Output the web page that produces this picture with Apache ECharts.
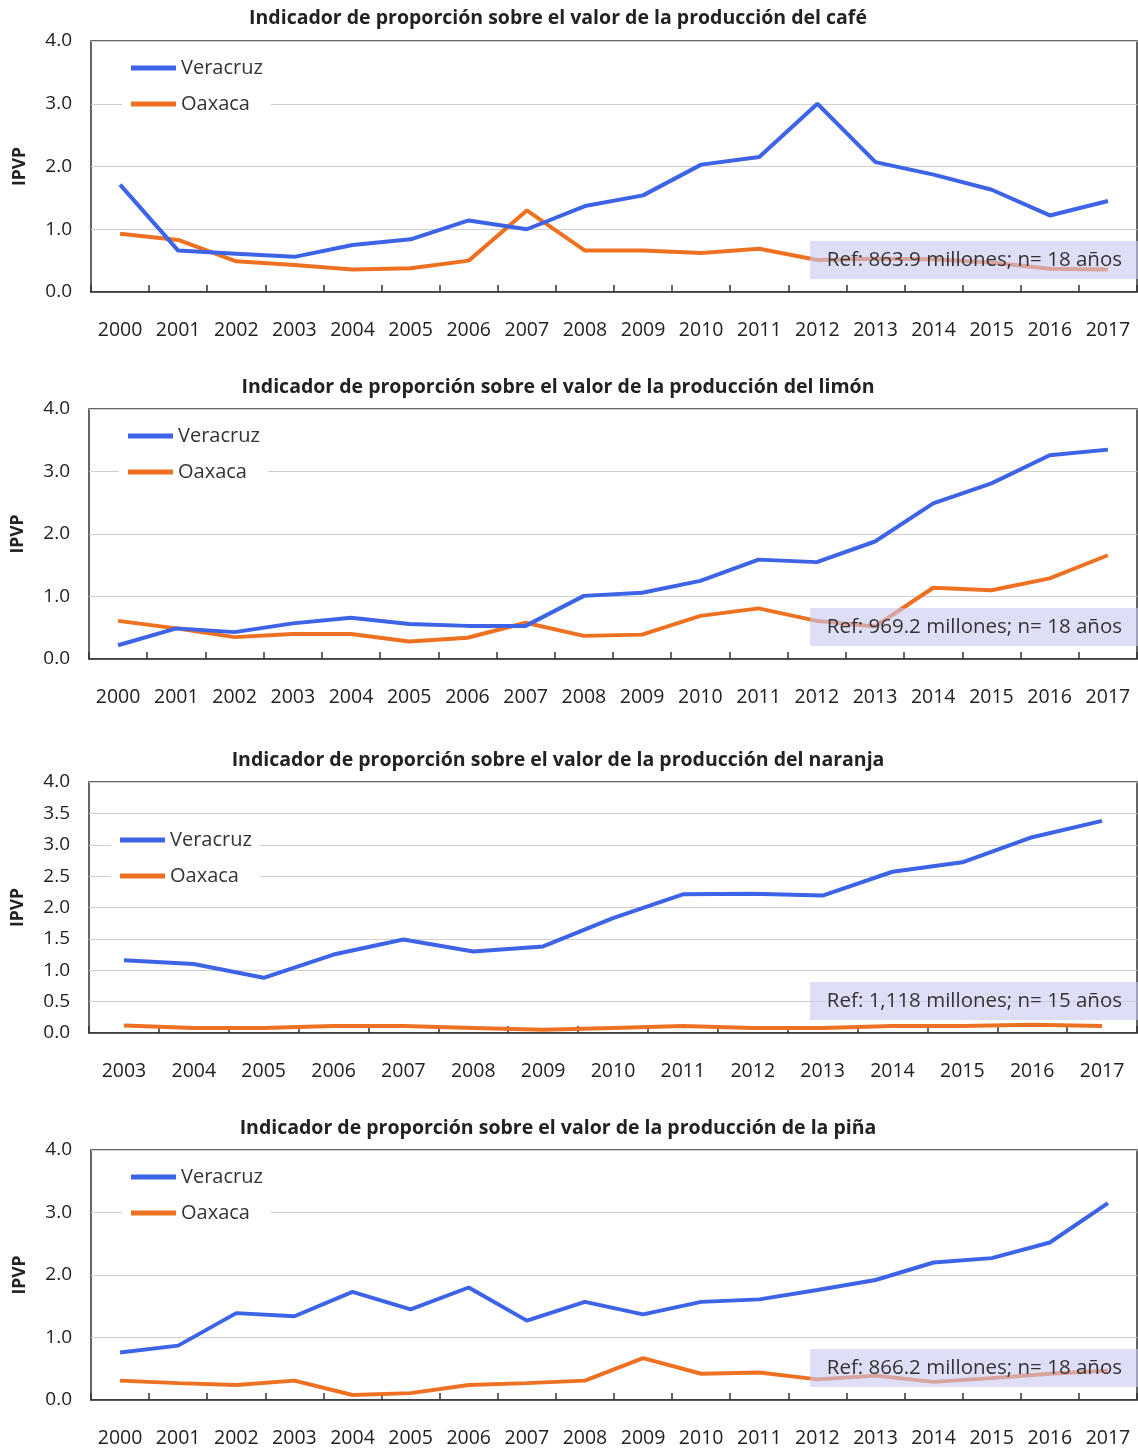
<!DOCTYPE html>
<html><head><meta charset="utf-8">
<script src="https://cdn.jsdelivr.net/npm/echarts@6/dist/echarts.min.js"></script>
<style>html,body{margin:0;padding:0;background:#fff}#c{width:1138px;height:1450px}</style>
</head><body><div id="c"></div>
<script>
// ---- data ----
const years2000 = ['2000','2001','2002','2003','2004','2005','2006','2007','2008','2009','2010','2011','2012','2013','2014','2015','2016','2017'];
const years2003 = ['2003','2004','2005','2006','2007','2008','2009','2010','2011','2012','2013','2014','2015','2016','2017'];
const seriesNames = ['Veracruz','Oaxaca'];
const chartTitles = [
  'Indicador de proporción sobre el valor de la producción del café',
  'Indicador de proporción sobre el valor de la producción del limón',
  'Indicador de proporción sobre el valor de la producción del naranja',
  'Indicador de proporción sobre el valor de la producción de la piña'
];
const refNotes = [
  'Ref: 863.9 millones; n= 18 años',
  'Ref: 969.2 millones; n= 18 años',
  'Ref: 1,118 millones; n= 15 años',
  'Ref: 866.2 millones; n= 18 años'
];
const cafeVeracruz  = [1.71,0.66,0.61,0.56,0.75,0.84,1.14,1.00,1.37,1.54,2.03,2.15,3.00,2.07,1.87,1.63,1.22,1.45];
const cafeOaxaca    = [0.93,0.83,0.49,0.43,0.36,0.38,0.50,1.30,0.66,0.66,0.62,0.69,0.51,0.53,0.52,0.47,0.37,0.36];
const limonVeracruz = [0.22,0.49,0.43,0.57,0.66,0.56,0.53,0.53,1.01,1.06,1.25,1.59,1.55,1.88,2.49,2.81,3.26,3.35];
const limonOaxaca   = [0.61,0.49,0.35,0.40,0.40,0.28,0.34,0.58,0.37,0.39,0.69,0.81,0.61,0.52,1.14,1.10,1.29,1.66];
const naranjaVeracruz = [1.16,1.10,0.88,1.25,1.49,1.30,1.38,1.83,2.21,2.22,2.19,2.57,2.72,3.12,3.38];
const naranjaOaxaca   = [0.12,0.08,0.08,0.11,0.11,0.08,0.05,0.08,0.11,0.08,0.08,0.11,0.11,0.13,0.11];
const pinaVeracruz = [0.76,0.87,1.39,1.34,1.73,1.45,1.80,1.27,1.57,1.37,1.57,1.61,1.76,1.92,2.20,2.27,2.52,3.15];
const pinaOaxaca   = [0.31,0.27,0.24,0.31,0.08,0.11,0.24,0.27,0.31,0.67,0.42,0.44,0.33,0.39,0.29,0.35,0.42,0.47];
const yInterval = [1, 1, 0.5, 1];

// ---- layout / style ----
const FONT = '"Open Sans", sans-serif';
const BLUE = '#3d63e6', ORANGE = '#ee7122';
const panels = [
  {cats: years2000, v: cafeVeracruz, o: cafeOaxaca, left: 91, top: 41, h: 251, titleY: 18, legLeft: 122},
  {cats: years2000, v: limonVeracruz, o: limonOaxaca, left: 89, top: 409, h: 250, titleY: 387, legLeft: 119},
  {cats: years2003, v: naranjaVeracruz, o: naranjaOaxaca, left: 89, top: 782, h: 251, titleY: 760, legLeft: 111, legTop: 821},
  {cats: years2000, v: pinaVeracruz, o: pinaOaxaca, left: 91, top: 1150, h: 250, titleY: 1128, legLeft: 122}
];

const option = {
  backgroundColor: '#fff', animation: false,
  title: [], legend: [], grid: [], xAxis: [], yAxis: [], series: [], graphic: []
};
panels.forEach((p, i) => {
  option.title.push({
    text: chartTitles[i], left: 558, top: p.titleY - 12, textAlign: 'center', padding: 0,
    textStyle: {fontFamily: FONT, fontWeight: 'bold', fontSize: 19.5, color: '#222', lineHeight: 24}
  });
  option.grid.push({
    left: p.left, top: p.top, width: 1137 - p.left, height: p.h,
    show: true, borderColor: '#333', borderWidth: 1.5, backgroundColor: 'transparent'
  });
  option.xAxis.push({
    type: 'category', gridIndex: i, data: p.cats, boundaryGap: true,
    axisLine: {show: true, lineStyle: {color: '#333', width: 1.5}},
    axisTick: {show: true, inside: true, length: 7, interval: 0, lineStyle: {color: '#333', width: 1.5}},
    axisLabel: {margin: 28, fontSize: 19.5, color: '#222', fontFamily: FONT, interval: 0},
    splitLine: {show: false}
  });
  option.yAxis.push({
    type: 'value', gridIndex: i, min: 0, max: 4, interval: yInterval[i],
    name: 'IPVP', nameLocation: 'middle', nameGap: 62, nameRotate: 90,
    nameTextStyle: {fontFamily: FONT, fontWeight: 'bold', fontSize: 17.5, color: '#222'},
    axisLine: {show: false}, axisTick: {show: false},
    axisLabel: {margin: 19, fontSize: 19, color: '#222', fontFamily: FONT, formatter: v => v.toFixed(1)},
    splitLine: {show: true, lineStyle: {color: '#cfcfcf', width: 1.2}}
  });
  const lt = (p.legTop !== undefined ? p.legTop : p.top + 8);
  option.legend.push({
    data: seriesNames.map(n => ({name: n})), orient: 'vertical',
    left: p.legLeft, top: lt, padding: [8, 8, 8, 9], itemGap: 14,
    backgroundColor: '#fff', icon: 'rect', itemWidth: 45, itemHeight: 5,
    selectedMode: false,
    textStyle: {fontFamily: FONT, fontSize: 20, color: '#333', lineHeight: 22, padding: [0, 0, 0, 0]},
    seriesIndex: [i * 2, i * 2 + 1]
  });
  option.series.push({
    name: seriesNames[0], type: 'line', xAxisIndex: i, yAxisIndex: i, data: p.v,
    showSymbol: false, symbol: 'none', lineStyle: {color: BLUE, width: 4}, itemStyle: {color: BLUE}, z: 3
  });
  option.series.push({
    name: seriesNames[1], type: 'line', xAxisIndex: i, yAxisIndex: i, data: p.o,
    showSymbol: false, symbol: 'none', lineStyle: {color: ORANGE, width: 4}, itemStyle: {color: ORANGE}, z: 2
  });
  const boxBottom = p.top + p.h - 13;
  option.graphic.push({
    type: 'rect', z: 50, shape: {x: 810, y: boxBottom - 38, width: 328, height: 38},
    style: {fill: 'rgba(200,200,240,0.6)'}
  });
  option.graphic.push({
    type: 'text', z: 51, x: 1122, y: boxBottom - 19,
    style: {text: refNotes[i], fill: '#333', font: '20.5px ' + FONT, align: 'right', verticalAlign: 'middle'}
  });
});
const chart = echarts.init(document.getElementById('c'), null, {renderer: 'canvas'});
chart.setOption(option);
</script></body></html>
